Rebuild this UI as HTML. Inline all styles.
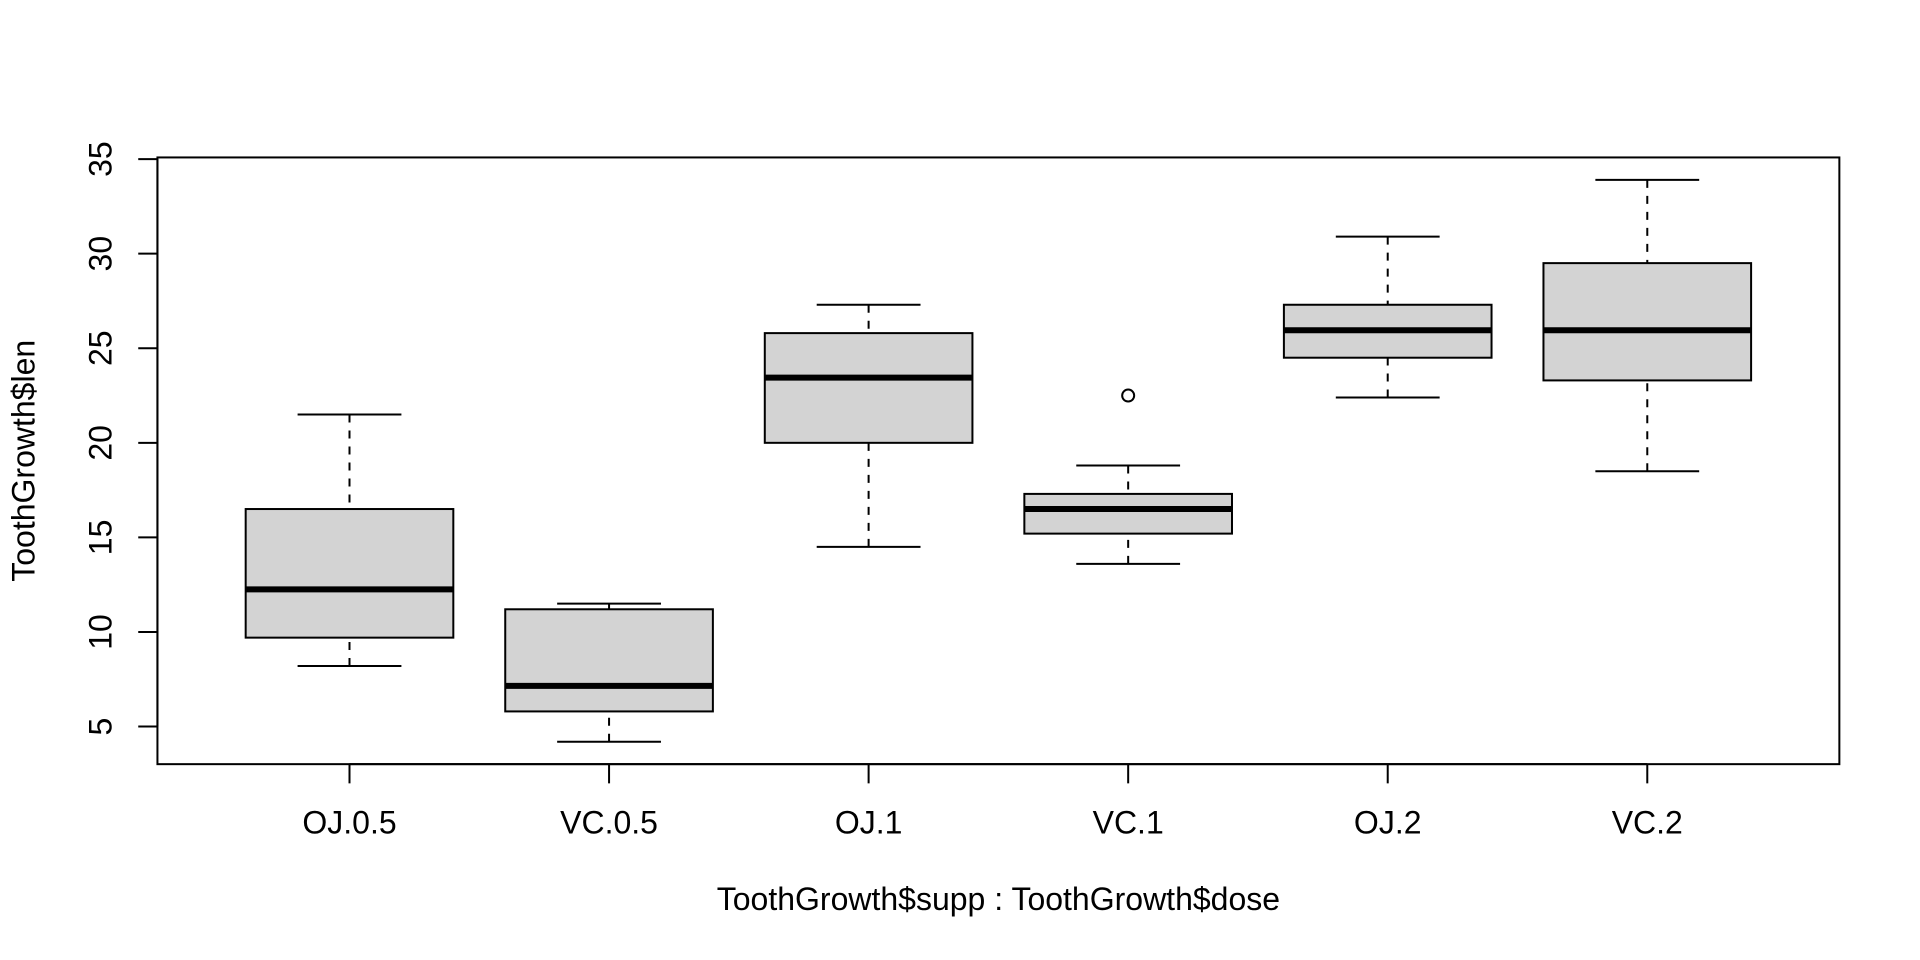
<!DOCTYPE html>
<html>
<head>
<meta charset="utf-8">
<style>
html,body{margin:0;padding:0;background:#fff;}
svg{display:block;}
text{font-family:"Liberation Sans",Arial,sans-serif;font-size:32px;fill:#000;}
</style>
</head>
<body>
<svg width="1920" height="960" viewBox="0 0 1920 960" xmlns="http://www.w3.org/2000/svg">
<rect x="0" y="0" width="1920" height="960" fill="#fff"/>
<g stroke="#000" stroke-width="2" fill="none">
  <!-- plot box -->
  <rect x="157.44" y="157.44" width="1681.92" height="606.72"/>
  <!-- y axis -->
  <line x1="157.44" y1="159.11" x2="157.44" y2="726.56"/>
  <line x1="157.44" y1="159.11" x2="138.24" y2="159.11"/>
  <line x1="157.44" y1="253.68" x2="138.24" y2="253.68"/>
  <line x1="157.44" y1="348.26" x2="138.24" y2="348.26"/>
  <line x1="157.44" y1="442.83" x2="138.24" y2="442.83"/>
  <line x1="157.44" y1="537.41" x2="138.24" y2="537.41"/>
  <line x1="157.44" y1="631.98" x2="138.24" y2="631.98"/>
  <line x1="157.44" y1="726.56" x2="138.24" y2="726.56"/>
  <!-- x axis -->
  <line x1="349.50" y1="764.16" x2="1647.28" y2="764.16"/>
  <line x1="349.50" y1="764.16" x2="349.50" y2="783.36"/>
  <line x1="609.06" y1="764.16" x2="609.06" y2="783.36"/>
  <line x1="868.61" y1="764.16" x2="868.61" y2="783.36"/>
  <line x1="1128.17" y1="764.16" x2="1128.17" y2="783.36"/>
  <line x1="1387.72" y1="764.16" x2="1387.72" y2="783.36"/>
  <line x1="1647.28" y1="764.16" x2="1647.28" y2="783.36"/>
</g>

<!-- boxes -->
<g stroke="#000" stroke-width="2">
  <!-- OJ.0.5 -->
  <rect x="245.68" y="509.03" width="207.64" height="128.62" fill="#D3D3D3"/>
  <!-- VC.0.5 -->
  <rect x="505.24" y="609.28" width="207.64" height="102.14" fill="#D3D3D3"/>
  <!-- OJ.1 -->
  <rect x="764.79" y="333.12" width="207.64" height="109.71" fill="#D3D3D3"/>
  <!-- VC.1 -->
  <rect x="1024.35" y="493.90" width="207.64" height="39.72" fill="#D3D3D3"/>
  <!-- OJ.2 -->
  <rect x="1283.90" y="304.75" width="207.64" height="52.96" fill="#D3D3D3"/>
  <!-- VC.2 -->
  <rect x="1543.46" y="263.13" width="207.64" height="117.28" fill="#D3D3D3"/>
</g>

<!-- medians -->
<g stroke="#000" stroke-width="6">
  <line x1="245.68" y1="589.42" x2="453.32" y2="589.42"/>
  <line x1="505.24" y1="685.89" x2="712.88" y2="685.89"/>
  <line x1="764.79" y1="377.57" x2="972.43" y2="377.57"/>
  <line x1="1024.35" y1="509.03" x2="1231.99" y2="509.03"/>
  <line x1="1283.90" y1="330.29" x2="1491.54" y2="330.29"/>
  <line x1="1543.46" y1="330.29" x2="1751.10" y2="330.29"/>
</g>

<!-- whiskers (dashed, from whisker end toward box) -->
<g stroke="#000" stroke-width="2" stroke-dasharray="8,8">
  <line x1="349.50" y1="666.03" x2="349.50" y2="637.65"/>
  <line x1="349.50" y1="414.46" x2="349.50" y2="509.03"/>
  <line x1="609.06" y1="741.69" x2="609.06" y2="711.42"/>
  <line x1="609.06" y1="603.61" x2="609.06" y2="609.28"/>
  <line x1="868.61" y1="546.86" x2="868.61" y2="442.83"/>
  <line x1="868.61" y1="304.75" x2="868.61" y2="333.12"/>
  <line x1="1128.17" y1="563.88" x2="1128.17" y2="533.62"/>
  <line x1="1128.17" y1="465.53" x2="1128.17" y2="493.90"/>
  <line x1="1387.72" y1="397.44" x2="1387.72" y2="357.71"/>
  <line x1="1387.72" y1="236.65" x2="1387.72" y2="304.75"/>
  <line x1="1647.28" y1="471.20" x2="1647.28" y2="380.41"/>
  <line x1="1647.28" y1="179.91" x2="1647.28" y2="263.13"/>
</g>

<!-- staples -->
<g stroke="#000" stroke-width="2">
  <line x1="297.59" y1="666.03" x2="401.41" y2="666.03"/>
  <line x1="297.59" y1="414.46" x2="401.41" y2="414.46"/>
  <line x1="557.15" y1="741.69" x2="660.97" y2="741.69"/>
  <line x1="557.15" y1="603.61" x2="660.97" y2="603.61"/>
  <line x1="816.70" y1="546.86" x2="920.52" y2="546.86"/>
  <line x1="816.70" y1="304.75" x2="920.52" y2="304.75"/>
  <line x1="1076.26" y1="563.88" x2="1180.08" y2="563.88"/>
  <line x1="1076.26" y1="465.53" x2="1180.08" y2="465.53"/>
  <line x1="1335.81" y1="397.44" x2="1439.63" y2="397.44"/>
  <line x1="1335.81" y1="236.65" x2="1439.63" y2="236.65"/>
  <line x1="1595.37" y1="471.20" x2="1699.19" y2="471.20"/>
  <line x1="1595.37" y1="179.91" x2="1699.19" y2="179.91"/>
</g>

<!-- outlier -->
<circle cx="1128.17" cy="395.54" r="6" fill="none" stroke="#000" stroke-width="2"/>

<!-- y tick labels -->
<g text-anchor="middle">
  <text transform="translate(111.36,159.11) rotate(-90)">35</text>
  <text transform="translate(111.36,253.68) rotate(-90)">30</text>
  <text transform="translate(111.36,348.26) rotate(-90)">25</text>
  <text transform="translate(111.36,442.83) rotate(-90)">20</text>
  <text transform="translate(111.36,537.41) rotate(-90)">15</text>
  <text transform="translate(111.36,631.98) rotate(-90)">10</text>
  <text transform="translate(111.36,726.56) rotate(-90)">5</text>
</g>

<!-- x tick labels -->
<g text-anchor="middle">
  <text x="349.50" y="833.3">OJ.0.5</text>
  <text x="609.06" y="833.3">VC.0.5</text>
  <text x="868.61" y="833.3">OJ.1</text>
  <text x="1128.17" y="833.3">VC.1</text>
  <text x="1387.72" y="833.3">OJ.2</text>
  <text x="1647.28" y="833.3">VC.2</text>
</g>

<!-- axis titles -->
<text x="998.4" y="910.1" text-anchor="middle">ToothGrowth$supp : ToothGrowth$dose</text>
<text transform="translate(34.56,460.8) rotate(-90)" text-anchor="middle">ToothGrowth$len</text>
</svg>
</body>
</html>
